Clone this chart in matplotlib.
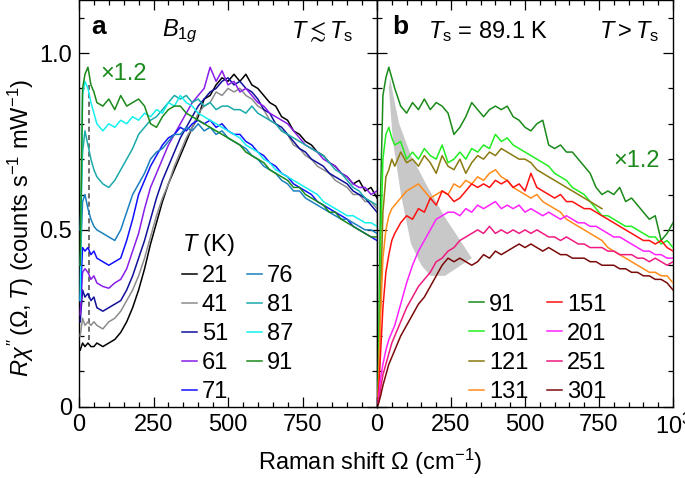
import numpy as np
import matplotlib
matplotlib.use('Agg')
import matplotlib.pyplot as plt

plt.rcParams['font.family'] = ['Liberation Sans', 'DejaVu Sans']
plt.rcParams['mathtext.fontset'] = 'custom'
plt.rcParams['mathtext.rm'] = 'Liberation Sans'
plt.rcParams['mathtext.it'] = 'Liberation Sans:italic'
plt.rcParams['mathtext.bf'] = 'Liberation Sans:bold'
plt.rcParams['mathtext.fallback'] = 'stixsans'

# Raman shift grid (cm^-1), shared by all spectra
omega = [4, 12, 20, 30, 40, 50, 60, 80, 100, 120, 140, 160, 180, 200, 220, 240, 260, 280, 300, 320,
         340, 360, 380, 400, 420, 440, 460, 480, 500, 520, 540, 560, 580, 600, 620, 640, 660, 680, 700, 720,
         740, 760, 780, 800, 820, 840, 860, 880, 900, 920, 940, 960, 980, 1000]

# panel a: T <~ Ts
temps_a = ['21', '41', '51', '61', '71', '76', '81', '87', '91']
colors_a = ['#000000', '#8c8c8c', '#10109a', '#8a1ee8', '#1010ff', '#1a80c0', '#1aaaaa', '#14f0f0', '#1a8a1a']
spec_21 = [0.16, 0.18, 0.17, 0.18, 0.17, 0.17, 0.18, 0.17, 0.18, 0.19, 0.21, 0.24, 0.28, 0.33, 0.39, 0.46, 0.52, 0.58, 0.63, 0.67,
           0.71, 0.75, 0.79, 0.82, 0.87, 0.88, 0.91, 0.93, 0.92, 0.94, 0.92, 0.94, 0.91, 0.90, 0.88, 0.86, 0.85, 0.82, 0.81, 0.78,
           0.77, 0.75, 0.74, 0.72, 0.71, 0.69, 0.68, 0.66, 0.65, 0.63, 0.64, 0.61, 0.62, 0.59]
spec_41 = [0.20, 0.25, 0.23, 0.24, 0.23, 0.24, 0.23, 0.22, 0.24, 0.25, 0.27, 0.30, 0.33, 0.37, 0.42, 0.48, 0.54, 0.59, 0.63, 0.68,
           0.72, 0.76, 0.79, 0.83, 0.85, 0.86, 0.89, 0.88, 0.90, 0.89, 0.90, 0.88, 0.87, 0.85, 0.84, 0.81, 0.80, 0.78, 0.77, 0.74,
           0.73, 0.71, 0.70, 0.68, 0.67, 0.66, 0.64, 0.63, 0.62, 0.60, 0.60, 0.58, 0.58, 0.56]
spec_51 = [0.24, 0.33, 0.31, 0.32, 0.30, 0.31, 0.28, 0.27, 0.28, 0.29, 0.30, 0.33, 0.37, 0.42, 0.47, 0.53, 0.59, 0.64, 0.68, 0.72,
           0.76, 0.79, 0.82, 0.85, 0.87, 0.89, 0.90, 0.92, 0.93, 0.91, 0.92, 0.90, 0.89, 0.87, 0.84, 0.83, 0.80, 0.79, 0.77, 0.75,
           0.73, 0.72, 0.70, 0.69, 0.68, 0.66, 0.65, 0.64, 0.63, 0.61, 0.60, 0.59, 0.57, 0.55]
spec_61 = [0.26, 0.38, 0.39, 0.38, 0.36, 0.37, 0.35, 0.34, 0.335, 0.35, 0.36, 0.39, 0.44, 0.49, 0.56, 0.62, 0.66, 0.70, 0.74, 0.77,
           0.80, 0.83, 0.86, 0.88, 0.90, 0.96, 0.92, 0.95, 0.91, 0.92, 0.89, 0.90, 0.88, 0.86, 0.85, 0.83, 0.82, 0.81, 0.80, 0.78,
           0.76, 0.74, 0.73, 0.72, 0.70, 0.69, 0.68, 0.66, 0.65, 0.63, 0.62, 0.62, 0.60, 0.61]
spec_71 = [0.30, 0.45, 0.44, 0.45, 0.43, 0.44, 0.42, 0.41, 0.40, 0.41, 0.42, 0.47, 0.53, 0.60, 0.64, 0.68, 0.71, 0.74, 0.76, 0.77,
           0.79, 0.78, 0.80, 0.81, 0.80, 0.81, 0.79, 0.80, 0.78, 0.77, 0.77, 0.75, 0.74, 0.72, 0.71, 0.69, 0.68, 0.66, 0.65, 0.63,
           0.62, 0.61, 0.60, 0.58, 0.57, 0.56, 0.55, 0.54, 0.53, 0.51, 0.50, 0.49, 0.48, 0.47]
spec_76 = [0.40, 0.58, 0.60, 0.56, 0.53, 0.51, 0.50, 0.49, 0.48, 0.47, 0.50, 0.55, 0.60, 0.63, 0.66, 0.70, 0.72, 0.73, 0.75, 0.77,
           0.77, 0.79, 0.78, 0.80, 0.78, 0.79, 0.77, 0.78, 0.76, 0.75, 0.74, 0.73, 0.71, 0.70, 0.68, 0.67, 0.66, 0.64, 0.63, 0.61,
           0.61, 0.59, 0.58, 0.57, 0.56, 0.55, 0.54, 0.53, 0.53, 0.52, 0.51, 0.50, 0.50, 0.49]
spec_81 = [0.50, 0.72, 0.78, 0.74, 0.70, 0.67, 0.65, 0.63, 0.62, 0.64, 0.67, 0.70, 0.73, 0.77, 0.79, 0.81, 0.82, 0.84, 0.86, 0.88,
           0.87, 0.88, 0.86, 0.87, 0.85, 0.86, 0.84, 0.85, 0.85, 0.84, 0.84, 0.83, 0.85, 0.83, 0.82, 0.81, 0.80, 0.78, 0.77, 0.76,
           0.75, 0.74, 0.73, 0.72, 0.71, 0.69, 0.67, 0.66, 0.64, 0.62, 0.61, 0.59, 0.58, 0.57]
spec_87 = [0.30, 0.88, 0.92, 0.90, 0.86, 0.83, 0.80, 0.78, 0.80, 0.79, 0.81, 0.80, 0.82, 0.81, 0.83, 0.82, 0.84, 0.83, 0.86, 0.85,
           0.88, 0.86, 0.85, 0.83, 0.82, 0.81, 0.80, 0.79, 0.78, 0.77, 0.76, 0.74, 0.73, 0.72, 0.70, 0.69, 0.67, 0.66, 0.65, 0.64,
           0.63, 0.62, 0.61, 0.60, 0.58, 0.57, 0.56, 0.55, 0.54, 0.54, 0.53, 0.52, 0.52, 0.51]
spec_91a = [0.40, 0.90, 0.94, 0.96, 0.91, 0.89, 0.86, 0.85, 0.87, 0.84, 0.88, 0.85, 0.86, 0.87, 0.85, 0.80, 0.79, 0.82, 0.84, 0.85,
            0.85, 0.83, 0.82, 0.81, 0.80, 0.79, 0.78, 0.77, 0.76, 0.75, 0.74, 0.72, 0.71, 0.70, 0.69, 0.67, 0.66, 0.65, 0.64, 0.62,
            0.62, 0.60, 0.59, 0.58, 0.57, 0.55, 0.55, 0.53, 0.52, 0.51, 0.50, 0.49, 0.48, 0.48]
spectra_a = [spec_21, spec_41, spec_51, spec_61, spec_71, spec_76, spec_81, spec_87, spec_91a]

# panel b: T > Ts
temps_b = ['91', '101', '121', '131', '151', '201', '251', '301']
colors_b = ['#1a8a1a', '#22ee22', '#8a7a10', '#ff8c1a', '#ff1010', '#ff22ff', '#ee1a80', '#7a0a0a']
spec_91b = [0.05, 0.60, 0.88, 0.93, 0.96, 0.93, 0.90, 0.85, 0.83, 0.86, 0.84, 0.87, 0.84, 0.86, 0.85, 0.83, 0.77, 0.79, 0.82, 0.86,
            0.84, 0.82, 0.84, 0.85, 0.84, 0.85, 0.82, 0.81, 0.79, 0.78, 0.80, 0.81, 0.74, 0.73, 0.74, 0.72, 0.72, 0.70, 0.68, 0.66,
            0.62, 0.60, 0.61, 0.60, 0.62, 0.58, 0.59, 0.57, 0.55, 0.53, 0.54, 0.47, 0.49, 0.52]
spec_101 = [0.03, 0.45, 0.70, 0.77, 0.79, 0.76, 0.74, 0.75, 0.70, 0.72, 0.70, 0.73, 0.71, 0.70, 0.74, 0.69, 0.70, 0.72, 0.70, 0.73,
            0.72, 0.74, 0.73, 0.77, 0.75, 0.76, 0.74, 0.73, 0.72, 0.71, 0.70, 0.69, 0.68, 0.66, 0.65, 0.64, 0.62, 0.61, 0.60, 0.58,
            0.56, 0.54, 0.54, 0.53, 0.52, 0.51, 0.51, 0.50, 0.49, 0.48, 0.48, 0.46, 0.47, 0.45]
spec_121 = [0.02, 0.30, 0.55, 0.65, 0.67, 0.70, 0.68, 0.72, 0.69, 0.70, 0.68, 0.71, 0.69, 0.66, 0.71, 0.68, 0.67, 0.70, 0.66, 0.69,
            0.71, 0.70, 0.72, 0.71, 0.73, 0.72, 0.71, 0.70, 0.70, 0.69, 0.67, 0.66, 0.65, 0.64, 0.63, 0.62, 0.61, 0.60, 0.59, 0.58,
            0.57, 0.56, np.nan, np.nan, np.nan, np.nan, np.nan, np.nan, np.nan, np.nan, np.nan, np.nan, np.nan, np.nan]
spec_131 = [0.03, 0.25, 0.42, 0.50, 0.54, 0.56, 0.57, 0.59, 0.61, 0.62, 0.63, 0.61, 0.59, 0.60, 0.61, 0.60, 0.63, 0.62, 0.64, 0.63,
            0.65, 0.64, 0.66, 0.67, 0.65, 0.64, 0.62, 0.61, 0.60, 0.59, 0.60, 0.58, 0.57, 0.56, 0.55, 0.53, 0.52, 0.51, 0.50, 0.49,
            0.48, 0.47, 0.45, 0.44, 0.43, 0.42, 0.41, 0.40, 0.39, 0.38, 0.38, 0.37, 0.37, 0.35]
spec_151 = [0.02, 0.15, 0.28, 0.38, 0.43, 0.47, 0.49, 0.52, 0.54, 0.53, 0.56, 0.55, 0.59, 0.57, 0.61, 0.60, 0.58, 0.59, 0.61, 0.63,
            0.62, 0.63, 0.62, 0.64, 0.63, 0.64, 0.62, 0.63, 0.61, 0.66, 0.62, 0.61, 0.60, 0.59, 0.60, 0.58, 0.58, 0.57, 0.56, 0.56,
            0.55, 0.54, 0.53, 0.52, 0.51, 0.50, 0.49, 0.48, 0.47, 0.47, 0.46, 0.47, 0.45, 0.44]
spec_201 = [0.01, 0.08, 0.12, 0.16, 0.19, 0.21, 0.23, 0.29, 0.35, 0.40, 0.44, 0.47, 0.50, 0.53, 0.54, 0.55, 0.55, 0.54, 0.56, 0.55,
            0.57, 0.56, 0.57, 0.58, 0.56, 0.57, 0.56, 0.57, 0.55, 0.56, 0.55, 0.54, 0.55, 0.54, 0.53, 0.54, 0.53, 0.52, 0.52, 0.51,
            0.51, 0.50, 0.49, 0.48, 0.48, 0.47, 0.46, 0.45, 0.44, 0.44, 0.43, 0.43, 0.42, 0.42]
spec_251 = [0.01, 0.05, 0.09, 0.12, 0.15, 0.18, 0.20, 0.24, 0.28, 0.31, 0.34, 0.36, 0.38, 0.41, 0.42, 0.44, 0.45, 0.47, 0.48, 0.49,
            0.50, 0.49, 0.51, 0.49, 0.50, 0.49, 0.50, 0.49, 0.50, 0.49, 0.50, 0.49, 0.48, 0.48, 0.47, 0.48, 0.47, 0.46, 0.46, 0.45,
            0.45, 0.45, 0.44, 0.44, 0.43, 0.43, 0.43, 0.42, 0.42, 0.41, 0.42, 0.41, 0.40, 0.41]
spec_301 = [0.005, 0.03, 0.06, 0.09, 0.12, 0.14, 0.16, 0.20, 0.23, 0.26, 0.29, 0.31, 0.34, 0.37, 0.40, 0.42, 0.41, 0.42, 0.41, 0.40,
            0.41, 0.43, 0.42, 0.44, 0.43, 0.44, 0.45, 0.46, 0.45, 0.46, 0.45, 0.44, 0.45, 0.44, 0.43, 0.43, 0.42, 0.42, 0.42, 0.41,
            0.41, 0.40, 0.40, 0.40, 0.39, 0.39, 0.38, 0.38, 0.37, 0.37, 0.36, 0.36, 0.35, 0.33]
spectra_b = [spec_91b, spec_101, spec_121, spec_131, spec_151, spec_201, spec_251, spec_301]

# grey band in panel b and dashed marker in panel a
band_omega = [44, 60, 75, 115, 172, 230, 297, 320, 230, 180, 150, 115, 81, 54, 40]
band_val = [0.93, 0.86, 0.80, 0.71, 0.62, 0.535, 0.45, 0.42, 0.37, 0.37, 0.40, 0.46, 0.60, 0.75, 0.90]
dash_omega = [35, 35]
dash_val = [0.19, 0.91]

FS = 17
fig = plt.figure(figsize=(6.85, 4.78), dpi=100)
ax_a = fig.add_axes([79 / 685, 71.3 / 478, 298 / 685, 406.7 / 478])
ax_b = fig.add_axes([377 / 685, 71.3 / 478, 296 / 685, 406.7 / 478])

ax_a.plot(dash_omega, dash_val, color='#555555', lw=1.2, dashes=(3, 2), zorder=2)
for vals, c, t in zip(spectra_a, colors_a, temps_a):
    ax_a.plot(omega, vals, color=c, lw=1.1, label=t, zorder=3)

ax_b.fill(band_omega, band_val, color='#c8c8c8', lw=0, zorder=1)
for vals, c, t in zip(spectra_b, colors_b, temps_b):
    ax_b.plot(omega, vals, color=c, lw=1.1, label=t, zorder=3)

for ax in (ax_a, ax_b):
    ax.set_xlim(0, 1000)
    ax.set_ylim(0, 1.15)
    ax.set_xticks([0, 250, 500, 750, 1000])
    ax.set_xticks(np.arange(0, 1001, 50), minor=True)
    ax.set_yticks([0, 0.5, 1.0])
    ax.set_yticks(np.arange(0, 1.11, 0.1), minor=True)
    ax.tick_params(which='both', direction='in', top=True, right=True, width=0.9, labelsize=FS, pad=5)
    ax.tick_params(which='major', length=7)
    ax.tick_params(which='minor', length=3.5)
    for s in ax.spines.values():
        s.set_linewidth(1.0)

ax_a.set_xticklabels(['0', '250', '500', '750', ''])
ax_a.set_yticklabels(['0', '0.5', '1.0'])
ax_b.set_xticklabels(['0', '250', '500', '750', r'10$^3$'])
ax_b.tick_params(labelleft=False)

leg_kw = dict(ncol=2, loc='upper left', frameon=False, fontsize=FS, handlelength=0.65,
              handletextpad=0.2, columnspacing=0.8, labelspacing=0.3, borderpad=0, borderaxespad=0)
ax_a.legend(bbox_to_anchor=(0.345, 0.43), title=r'$T$ (K)', title_fontsize=FS, alignment='left', **leg_kw)
ax_b.legend(bbox_to_anchor=(0.31, 0.278), **leg_kw)

ta = ax_a.transAxes
ax_a.text(0.04, 0.934, 'a', transform=ta, fontsize=19, fontweight='bold', va='center')
ax_a.text(0.279, 0.922, r'$B_{1g}$', transform=ta, fontsize=FS, va='center')
ax_a.text(0.71, 0.922, r'$T \lesssim T_\mathrm{s}$', transform=ta, fontsize=FS, va='center')
ax_a.text(0.07, 0.818, '×1.2', transform=ta, fontsize=FS, color='#1a8a1a', va='center')

tb = ax_b.transAxes
ax_b.text(0.05, 0.934, 'b', transform=tb, fontsize=19, fontweight='bold', va='center')
ax_b.text(0.172, 0.922, r'$T_\mathrm{s}$ = 89.1 K', transform=tb, fontsize=FS, va='center')
ax_b.text(0.75, 0.922, r'$T > T_\mathrm{s}$', transform=tb, fontsize=FS, va='center')
ax_b.text(0.797, 0.604, '×1.2', transform=tb, fontsize=FS, color='#1a8a1a', va='center')

fig.text(370 / 685, 1 - 462 / 478, r'Raman shift $\Omega$ (cm$^{-1}$)', ha='center', va='center', fontsize=FS)
fig.text(21 / 685, 1 - 228 / 478, r'$R\chi^{\prime\prime}\,(\Omega, T)$ (counts s$^{-1}$ mW$^{-1}$)',
         rotation=90, ha='center', va='center', fontsize=FS)

fig.savefig('out.png', dpi=100)
